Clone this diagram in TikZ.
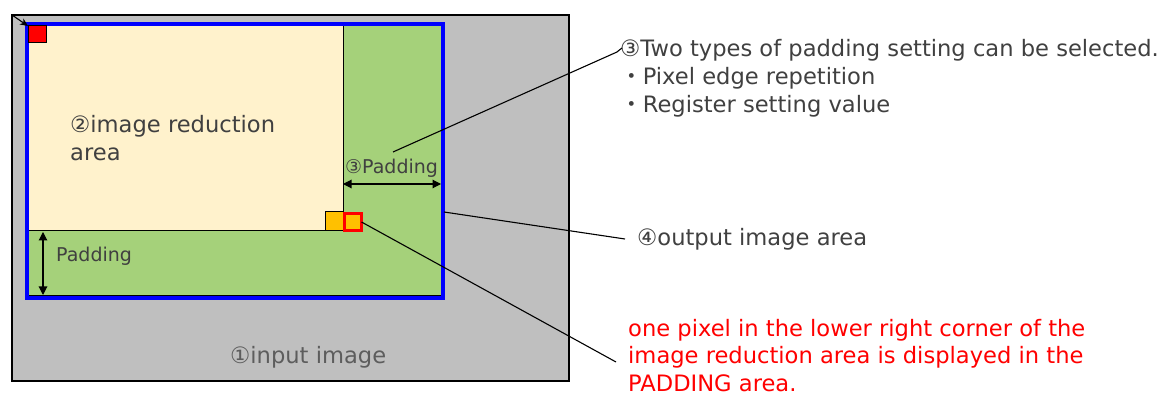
\documentclass[tikz,border=0pt]{standalone}
\usepackage{fontspec}
\setmainfont{DejaVu Sans}
\newfontfamily\cfont{DejaVu Sans}
\newfontfamily\jfont{Noto Sans CJK JP}
\usetikzlibrary{arrows.meta}
\definecolor{inputgray}{HTML}{BFBFBF}
\definecolor{padgreen}{HTML}{A5D17A}
\definecolor{redbeige}{HTML}{FFF2CC}
\definecolor{pixorange}{HTML}{FFC000}
\definecolor{txtgray}{HTML}{404040}
\definecolor{txtred}{HTML}{FF0000}
\newcommand{\cnum}[1]{{\cfont #1}}
\newcommand{\jdot}{{\jfont ・}}
\begin{document}
\begin{tikzpicture}[x=1pt,y=-1pt,
  box/.style={anchor=north west,inner sep=0pt,outer sep=0pt},
  leader/.style={draw=black,line width=1.1pt},
  dimarrow/.style={line width=1.1pt,{Triangle[length=8.5pt,width=8.5pt]}-{Triangle[length=8.5pt,width=8.5pt]}},
  bigtxt/.style={text=txtgray,font=\fontsize{22.6}{28}\selectfont,inner sep=0pt,anchor=base west,align=left},
  smalltxt/.style={text=txtgray,font=\fontsize{19}{20}\selectfont,inner sep=0pt,anchor=base west},
  redtxt/.style={text=txtred,font=\fontsize{22.6}{27.5}\selectfont,inner sep=0pt,anchor=base west,align=left}]
\useasboundingbox (0,0) rectangle (1159,395);
% input image
\node[box,draw=black,line width=1.2pt,fill=inputgray,minimum width=557pt,minimum height=366pt] (input) at (12,15) {};
% output / padding area
\node[box,fill=padgreen,minimum width=416pt,minimum height=274pt] (output) at (27,24) {};
% image reduction area
\node[box,draw=black,line width=1pt,fill=redbeige,minimum width=316pt,minimum height=207pt] (reduct) at (27,24) {};
\coordinate (bl) at (27,296);
\coordinate (br) at (443,296);
\draw[line width=1.2pt] (bl) -- (br);
% blue output border
\node[box,draw=blue,line width=4pt,minimum width=416pt,minimum height=274pt] (outborder) at (27,24) {};
% red pixel top-left
\node[box,draw=black,line width=1pt,fill=red,minimum width=18pt,minimum height=17pt] (redpix) at (28,26) {};
\coordinate (arrstart) at (12,15);
\draw[line width=1.1pt,-{Stealth[length=8pt,width=7pt]}] (arrstart) -- (redpix.north west);
% orange pixels
\node[box,draw=black,line width=1pt,fill=pixorange,minimum width=18pt,minimum height=19pt] (opix) at (325,212) {};
\node[box,draw=red,line width=3pt,fill=pixorange,minimum width=17pt,minimum height=17pt] (rpix) at (344.5,213.5) {};
% padding arrows
\coordinate (hpa) at (343,184);
\coordinate (hpb) at (441,184);
\draw[dimarrow] (hpa) -- (hpb);
\coordinate (vpa) at (43,232);
\coordinate (vpb) at (43,295);
\draw[dimarrow] (vpa) -- (vpb);
% texts inside
\node[bigtxt] (redtext) at (70,161) {\cnum{②}image reduction\\area};
\node[smalltxt] (padr) at (345,174) {\cnum{③}Padding};
\node[smalltxt] (padl) at (56,262) {Padding};
\node[text=txtgray!85,font=\fontsize{22.6}{24}\selectfont,inner sep=0pt,anchor=base west] (inlabel) at (230,363) {\cnum{①}input image};
% right texts
\node[bigtxt] (note3) at (620,113) {\cnum{③}Two types of padding setting can be selected.\\\jdot Pixel edge repetition\\\jdot Register setting value};
\node[bigtxt] (note4) at (637,246) {\cnum{④}output image area};
\node[redtxt] (note5) at (628,391) {one pixel in the lower right corner of the\\image reduction area is displayed in the\\PADDING area.};
% leaders
\coordinate (l3a) at (393,152);
\coordinate (l3b) at (617,52);
\draw[leader] (l3a) -- (l3b) to[out=25,in=200] ++(5,-4);
\coordinate (l4a) at (444,212);
\coordinate (l4b) at (625,239);
\draw[leader] (l4a) -- (l4b);
\coordinate (l5b) at (616,362);
\draw[leader] (rpix.east) -- (l5b);
\end{tikzpicture}
\end{document}
